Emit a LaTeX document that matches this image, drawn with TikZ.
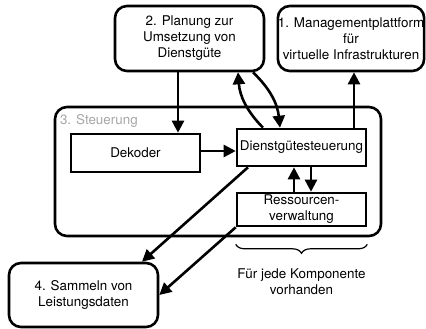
\documentclass[tikz,border=0pt]{standalone}
\usepackage{fontspec}
\setmainfont{TeX Gyre Heros}
\usepackage{tikz}
\usetikzlibrary{arrows.meta,positioning,decorations.pathreplacing}

\begin{document}
\begin{tikzpicture}[
			x=1pt, y=-1pt,
			line width=2.6pt,
			>={Triangle[length=12pt,width=12pt]},
			every node/.style={font=\fontsize{13.4}{16}\selectfont, align=center},
			rbox/.style={draw, rounded corners=12pt, inner sep=0pt},
			sbox/.style={draw, inner sep=0pt}
			]

			\useasboundingbox (0,0) rectangle (426,329);

			% outer boxes
			\node[rbox, minimum width=149pt, minimum height=65pt] (plan) at (189.5,38.5) {2. Planung zur\\Umsetzung von\\Dienstgüte};
			\node[rbox, minimum width=146pt, minimum height=65pt] (mgmt) at (351,38.5) {1. Managementplattform\\für\\virtuelle Infrastrukturen};
			\node[rbox, minimum width=149pt, minimum height=64pt] (samm) at (83.5,295) {4. Sammeln von\\Leistungsdaten};

			% Steuerung
			\node[rbox, minimum width=326pt, minimum height=129pt] (steuer) at (218,171.5) {};
			\node[anchor=west, inner sep=0pt, text=black!35] (steuerlbl) at ([xshift=5pt,yshift=-15pt]steuer.north west) {3. Steuerung};
			\node[sbox, minimum width=129pt, minimum height=38pt] (dek) at (135.5,153) {Dekoder};
			\node[sbox, minimum width=129pt, minimum height=37pt] (dienst) at (301.5,147.5) {Dienstgütesteuerung};
			\node[sbox, minimum width=129pt, minimum height=33pt] (res) at (301.5,209.5) {Ressourcen-\\verwaltung};

			% connectors
			\draw[->] ([xshift=-11.5pt]plan.south) -- ([xshift=-11.5pt]plan.south |- dek.north);
			\draw[->] ([yshift=2pt]dek.east) -- ([yshift=2pt]dek.east -| dienst.west);
			\draw[->] ([xshift=-38.5pt]dienst.north) to[bend left=20] ([xshift=48.5pt]plan.south);
			\draw[->] ([xshift=63.5pt]plan.south) to[bend left=20] ([xshift=-21.5pt]dienst.north);
			\draw[->] ([xshift=52.5pt]dienst.north) -- ([xshift=52.5pt]dienst.north |- mgmt.south);
			\draw[->] ([xshift=-7.5pt]res.north) -- ([xshift=-7.5pt]res.north |- dienst.south);
			\draw[->] ([xshift=9.5pt]dienst.south) -- ([xshift=9.5pt]dienst.south |- res.north);
			\draw[->] ([xshift=-53.5pt]dienst.south) -- ([xshift=58.5pt]samm.north);
			\draw[->] (res.south west) -- (samm.east);

			% brace
			\draw[line width=1.2pt, decorate, decoration={brace, amplitude=9pt}] ([yshift=-17pt]res.south east) -- ([yshift=-17pt]res.south west) node[midway, yshift=-37pt] (braceTxt) {Für jede Komponente\\vorhanden};

			\end{tikzpicture}
\end{document}
